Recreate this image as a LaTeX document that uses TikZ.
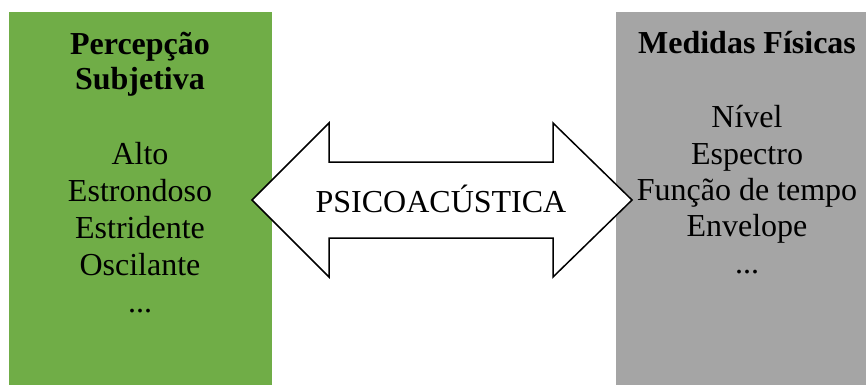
\documentclass[tikz,border=0pt]{standalone}
\usepackage{fontspec}
\setmainfont{Liberation Serif}
\definecolor{percgreen}{HTML}{70AD47}
\definecolor{measgray}{HTML}{A5A5A5}

\begin{document}
\begin{tikzpicture}[x=1bp, y=-1bp, every node/.style={font=\fontsize{32bp}{37bp}\selectfont, align=center}]
    \useasboundingbox (0,0) rectangle (866,385);
    % Boxes
    \node[rectangle, fill=percgreen, minimum width=263bp, minimum height=373bp, inner sep=0pt, anchor=north west] at (9,12) (perception) {};
    \node[rectangle, fill=measgray, minimum width=250bp, minimum height=373bp, inner sep=0pt, anchor=north west] at (616,12) (measures) {};

    % Arrow
    \draw[line width=1.5bp, fill=white] (252,200) -- (329,123) -- (329,162) -- (553,162) -- (553,123) -- (632,200)
        -- (553,277) -- (553,238) -- (329,238) -- (329,277) -- cycle;
    \node[anchor=base] at (441,212) (psycho) {PSICOACÚSTICA};

    % Labels (base = last line)
    \node[anchor=base] at (140,89) (perctitle) {\textbf{Percepção}\\[-2bp]\textbf{Subjetiva}};
    \node[anchor=base] at (140,312) (perclist) {Alto\\Estrondoso\\Estridente\\Oscilante\\...};
    \node[anchor=base] at (747,53) (meastitle) {\textbf{Medidas Físicas}};
    \node[anchor=base, font=\fontsize{32bp}{36.3bp}\selectfont] at (747,273) (measlist) {Nível\\Espectro\\Função de tempo\\Envelope\\...};
\end{tikzpicture}
\end{document}
